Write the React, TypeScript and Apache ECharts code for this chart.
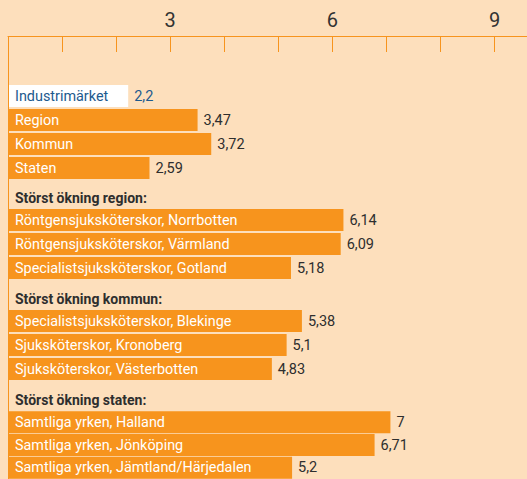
import React, { useEffect, useRef } from "react";
import * as echarts from "echarts";

const topCategories = ["Industrimärket", "Region", "Kommun", "Staten"];
const topValues = [2.2, 3.47, 3.72, 2.59];

const sectionTitles = ["Störst ökning region:", "Störst ökning kommun:", "Störst ökning staten:"];

const regionCategories = [
  "Röntgensjuksköterskor, Norrbotten",
  "Röntgensjuksköterskor, Värmland",
  "Specialistsjuksköterskor, Gotland",
];
const regionValues = [6.14, 6.09, 5.18];

const kommunCategories = [
  "Specialistsjuksköterskor, Blekinge",
  "Sjuksköterskor, Kronoberg",
  "Sjuksköterskor, Västerbotten",
];
const kommunValues = [5.38, 5.1, 4.83];

const statenCategories = [
  "Samtliga yrken, Halland",
  "Samtliga yrken, Jönköping",
  "Samtliga yrken, Jämtland/Härjedalen",
];
const statenValues = [7, 6.71, 5.2];

const tickValues = [1, 2, 3, 4, 5, 6, 7, 8, 9];
const tickLabels = [3, 6, 9];
const highlightCategory = "Industrimärket";

const ORANGE = "#F7941D";
const BG = "#FDDFBC";
const BLUE = "#1D5A8E";
const DARK = "#2E2E2E";
const FONT = "Roboto, 'Liberation Sans', sans-serif";

const groups = [
  { cats: topCategories, vals: topValues },
  { cats: regionCategories, vals: regionValues },
  { cats: kommunCategories, vals: kommunValues },
  { cats: statenCategories, vals: statenValues },
];
const gridTops = [84, 208, 309, 411];
const headerYs = [198, 298.5, 400];
const ROW = 24;

function fmt(v: number) {
  return String(v).replace(".", ",");
}

export default function App() {
  const ref = useRef<HTMLDivElement>(null);
  useEffect(() => {
    if (!ref.current) return;
    const chart = echarts.init(ref.current, null, { renderer: "svg" });

    const grid = groups.map((g, i) => ({
      left: 8,
      right: 0,
      top: gridTops[i],
      height: g.cats.length * ROW,
    }));

    const xAxis: any[] = [
      {
        type: "value",
        gridIndex: 0,
        position: "top",
        offset: 48,
        min: 0,
        max: 9.6,
        axisLine: { show: true, lineStyle: { color: ORANGE, width: 1 } },
        axisTick: {
          show: true,
          inside: true,
          length: 16,
          customValues: tickValues,
          lineStyle: { color: ORANGE, width: 1 },
        },
        axisLabel: {
          show: true,
          customValues: tickLabels,
          margin: 6,
          fontSize: 20,
          color: "#333",
          fontFamily: FONT,
        },
        splitLine: { show: false },
      },
    ];
    groups.forEach((g, i) => {
      xAxis.push({ type: "value", gridIndex: i, min: 0, max: 9.5, show: false });
    });

    const yAxis = groups.map((g, i) => ({
      type: "category",
      gridIndex: i,
      inverse: true,
      data: g.cats,
      z: 10,
      axisLine: { show: false },
      axisTick: { show: false },
      splitLine: { show: false },
      axisLabel: {
        inside: true,
        interval: 0,
        margin: 7,
        fontSize: 14.4,
        fontFamily: FONT,
        color: (v: string) => (v === highlightCategory ? BLUE : "#FFFFFF"),
      },
    }));

    const series = groups.map((g, i) => ({
      type: "bar",
      xAxisIndex: i + 1,
      yAxisIndex: i,
      barWidth: 22,
      data: g.vals.map((v, j) => {
        const hl = g.cats[j] === highlightCategory;
        return {
          value: v,
          itemStyle: { color: hl ? "#FFFFFF" : ORANGE },
          label: { color: hl ? BLUE : DARK },
        };
      }),
      label: {
        show: true,
        position: "right",
        distance: 6,
        fontSize: 14.5,
        fontFamily: FONT,
        formatter: (p: any) => fmt(p.value),
      },
    }));

    const graphic: any[] = [
      {
        type: "line",
        shape: { x1: 8.5, y1: 36, x2: 8.5, y2: 479 },
        style: { stroke: ORANGE, lineWidth: 1 },
        z: 20,
      },
      ...sectionTitles.map((t, i) => ({
        type: "text",
        x: 15,
        y: headerYs[i],
        style: {
          text: t,
          fill: DARK,
          font: `bold 14px ${FONT}`,
          textVerticalAlign: "middle",
          verticalAlign: "middle",
        },
      })),
    ];

    chart.setOption({
      animation: false,
      backgroundColor: BG,
      grid,
      xAxis,
      yAxis,
      series,
      graphic,
    });
    return () => chart.dispose();
  }, []);
  return (
    <div
      ref={ref}
      style={{ position: "fixed", left: 0, top: 0, width: 527, height: 479 }}
    />
  );
}
